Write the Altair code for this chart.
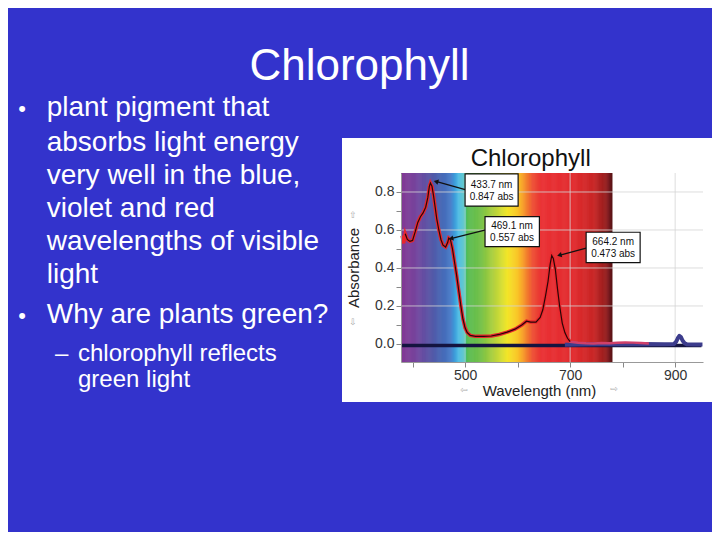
import altair as alt
import pandas as pd

FONT = "Liberation Sans"
W, H = 302, 189

# ---------------- data ----------------
wl_curve = [380, 383, 386, 390, 395, 400, 405, 410, 415, 420, 425, 429, 432, 434, 437,
            440, 443, 446, 450, 454, 458, 463, 467, 469, 472, 476, 480, 484, 488, 492,
            496, 500, 504, 510, 520, 535, 550, 565, 580, 595, 608, 617, 625, 635, 643,
            648, 653, 658, 662, 665, 668, 672, 676, 680, 685, 690, 695, 700]
abs_curve = [0.57, 0.53, 0.58, 0.55, 0.54, 0.545, 0.59, 0.64, 0.67, 0.69, 0.72, 0.77, 0.83, 0.847, 0.83,
             0.78, 0.72, 0.66, 0.60, 0.55, 0.52, 0.51, 0.535, 0.557, 0.55, 0.50, 0.43, 0.36, 0.28, 0.20,
             0.13, 0.085, 0.06, 0.045, 0.04, 0.04, 0.042, 0.05, 0.062, 0.078, 0.10, 0.12, 0.115, 0.115, 0.14,
             0.18, 0.25, 0.33, 0.42, 0.465, 0.45, 0.39, 0.29, 0.20, 0.11, 0.06, 0.03, 0.012]

wl_tail = [700, 715, 730, 745, 760, 775, 790, 805, 820, 835, 850]
abs_tail = [0.012, 0.006, 0.004, 0.003, 0.005, 0.004, 0.006, 0.008, 0.007, 0.005, 0.002]

wl_base = [380, 500, 700, 900, 950]
abs_base = [-0.008, -0.008, -0.008, -0.008, -0.008]

wl_blank = [690, 720, 760, 800, 840, 880, 898, 902, 905, 908, 911, 914, 918, 922, 935, 952]
abs_blank = [-0.004, -0.003, -0.002, -0.001, 0.0, -0.002, 0.0, 0.012, 0.03, 0.042, 0.036, 0.018, 0.004,
             -0.002, -0.003, -0.003]

# spectrum colour stops (nm -> colour)
spec_stops = [380, 405, 435, 455, 472, 487, 497, 503, 530, 557, 580, 600, 615, 628, 645, 705, 745, 768, 780]
spec_colors = ["#7a2e8e", "#6d3896", "#4a4ca0", "#3a5eb0", "#3d72c4", "#48b8e2", "#5cc4c8", "#4cb84a",
               "#6cbc3c", "#b4d030", "#f2e41c", "#f8c01c", "#f28020", "#ec4428", "#e82428", "#e01f22",
               "#c41818", "#8e1010", "#4a0606"]

x_ticks = [400, 500, 600, 700, 800, 900]
y_ticks = [0.0, 0.1, 0.2, 0.3, 0.4, 0.5, 0.6, 0.7, 0.8]
grid_x = [500, 700, 900]
grid_y = [0.2, 0.4, 0.6, 0.8]

# annotations
ann_line1 = ["433.7 nm", "469.1 nm", "664.2 nm"]
ann_line2 = ["0.847 abs", "0.557 abs", "0.473 abs"]
ann_x1 = [500, 538, 730.5]
ann_x2 = [601, 641.5, 833.3]
ann_y1 = [0.895, 0.670, 0.588]
ann_y2 = [0.726, 0.512, 0.428]
ann_cx = [550.5, 589.5, 781.9]
ann_b1 = [0.819, 0.605, 0.521]
ann_b2 = [0.758, 0.542, 0.459]
arr_tx = [501.9, 539.4, 730.5]
arr_ty = [0.811, 0.600, 0.504]
arr_hx = [446.1, 474.7, 681.0]
arr_hy = [0.854, 0.556, 0.468]
arr_ang = [286, 256, 256]

slide_title = "Chlorophyll"
bullet_lines = ["plant pigment that", "absorbs light energy", "very well in the blue,",
                "violet and red", "wavelengths of visible", "light", "Why are plants green?"]
bullet_base = [-57, -22.5, 11, 44, 77, 110, 150]
bullet_dots = [-64.5, 143]
sub_lines = ["chlorophyll reflects", "green light"]
sub_base = [188, 214]

# ---------------- scales / axes ----------------
xs = alt.Scale(domain=[378, 953], nice=False, zero=False)
ys = alt.Scale(domain=[-0.095, 0.9], nice=False, zero=False)
xax = alt.Axis(values=x_ticks, format="d", labelExpr="datum.value % 200 == 100 ? datum.label : ''",
               grid=False, title=None, labelFont=FONT, labelFontSize=14, labelColor="#333",
               tickColor="#888", tickSize=5, domainColor="#999", labelPadding=1, zindex=1)
yax = alt.Axis(values=y_ticks, format=".1f", labelExpr="round(datum.value*10) % 2 == 0 ? datum.label : ''",
               grid=False, title=None, labelFont=FONT, labelFontSize=14, labelColor="#333",
               tickColor="#888", tickSize=5, domainColor="#999", labelPadding=2, zindex=1)


def X(f):
    return alt.X(f, type="quantitative", scale=xs, axis=xax)


def Y(f):
    return alt.Y(f, type="quantitative", scale=ys, axis=yax)


layers = []

# white box behind chart
layers.append(alt.Chart(pd.DataFrame({"a": [0]})).mark_rect(color="white").encode(
    x=alt.value(-59), x2=alt.value(311), y=alt.value(-35), y2=alt.value(229)))

# spectrum
spec_wl = list(range(378, 780))
spec_df = pd.DataFrame({"wl": spec_wl, "wl2": [w + 1.6 for w in spec_wl]})
layers.append(alt.Chart(spec_df).mark_rect(strokeWidth=0).encode(
    x=X("wl"), x2=alt.X2("wl2"), y=alt.value(0), y2=alt.value(H),
    color=alt.Color("wl:Q", scale=alt.Scale(domain=spec_stops, range=spec_colors), legend=None)))

# grid
layers.append(alt.Chart(pd.DataFrame({"gx": grid_x})).mark_rule(color="#d4d4d4", strokeWidth=1, opacity=0.8)
              .encode(x=X("gx")))
layers.append(alt.Chart(pd.DataFrame({"gy": grid_y})).mark_rule(color="#d4d4d4", strokeWidth=1, opacity=0.8)
              .encode(y=Y("gy")))

# traces
layers.append(alt.Chart(pd.DataFrame({"wl": wl_base, "a": abs_base})).mark_line(color="#141440", strokeWidth=3.5)
              .encode(x=X("wl"), y=Y("a")))
layers.append(alt.Chart(pd.DataFrame({"wl": wl_blank, "a": abs_blank}))
              .mark_line(color="#3c3c8c", strokeWidth=4, strokeJoin="round")
              .encode(x=X("wl"), y=Y("a")))
layers.append(alt.Chart(pd.DataFrame({"wl": wl_tail, "a": abs_tail}))
              .mark_line(color="#d0406a", strokeWidth=2.5).encode(x=X("wl"), y=Y("a")))
layers.append(alt.Chart(pd.DataFrame({"wl": wl_curve, "a": abs_curve}))
              .mark_line(color="#e8262c", strokeWidth=3.5).encode(x=X("wl"), y=Y("a")))
layers.append(alt.Chart(pd.DataFrame({"wl": wl_curve[2:], "a": abs_curve[2:]}))
              .mark_line(color="#2a0606", strokeWidth=1.2).encode(x=X("wl"), y=Y("a")))

# annotations
ann_df = pd.DataFrame({"x1": ann_x1, "x2": ann_x2, "y1": ann_y1, "y2": ann_y2, "cx": ann_cx,
                       "b1": ann_b1, "b2": ann_b2, "l1": ann_line1, "l2": ann_line2})
arr_df = pd.DataFrame({"tx": arr_tx, "ty": arr_ty, "hx": arr_hx, "hy": arr_hy, "ang": arr_ang})
layers.append(alt.Chart(arr_df).mark_rule(color="#111", strokeWidth=1.3).encode(
    x=X("tx"), x2=alt.X2("hx"), y=Y("ty"), y2=alt.Y2("hy")))
layers.append(alt.Chart(arr_df).mark_point(shape="triangle", filled=True, size=28, color="#111", opacity=1)
              .encode(x=X("hx"), y=Y("hy"), angle=alt.Angle("ang:Q", scale=None)))
layers.append(alt.Chart(ann_df).mark_rect(fill="white", stroke="#111", strokeWidth=1.2).encode(
    x=X("x1"), x2=alt.X2("x2"), y=Y("y1"), y2=alt.Y2("y2")))
layers.append(alt.Chart(ann_df).mark_text(font=FONT, fontSize=10, color="#111", baseline="alphabetic")
              .encode(x=X("cx"), y=Y("b1"), text="l1:N"))
layers.append(alt.Chart(ann_df).mark_text(font=FONT, fontSize=10, color="#111", baseline="alphabetic")
              .encode(x=X("cx"), y=Y("b2"), text="l2:N"))

one = pd.DataFrame({"a": [0]})


def txt(s, x, y, size, color, align="left", baseline="alphabetic", angle=0, font=FONT):
    kw = dict(font=font, fontSize=size, color=color, align=align, baseline=baseline)
    if angle:
        kw["angle"] = angle
    return alt.Chart(one).mark_text(**kw).encode(x=alt.value(x), y=alt.value(y), text=alt.value(s))


# chart title & axis titles
layers.append(txt("Chlorophyll", 129.7, -7.3, 24, "#111", align="center"))
layers.append(txt("Absorbance", -47, 95, 15, "#222", align="center", baseline="middle", angle=270))
layers.append(txt("Wavelength (nm)", 138.5, 223, 15, "#222", align="center"))
layers.append(txt("⇧", -48, 42, 9, "#aaa", align="center", baseline="middle", font="DejaVu Sans"))
layers.append(txt("⇩", -48, 149, 9, "#aaa", align="center", baseline="middle", font="DejaVu Sans"))
layers.append(txt("⇦", 63, 217, 9, "#aaa", align="center", baseline="middle", font="DejaVu Sans"))
layers.append(txt("⇨", 213, 216, 9, "#aaa", align="center", baseline="middle", font="DejaVu Sans"))

# slide text
layers.append(txt(slide_title, -41.5, -93, 44, "white", align="center"))
for line, b in zip(bullet_lines, bullet_base):
    layers.append(txt(line, -354.3, b, 28, "white"))
for b in bullet_dots:
    layers.append(txt("•", -379, b, 22, "white", align="center", baseline="middle"))
layers.append(txt("–", -346, sub_base[0], 24, "white"))
for line, b in zip(sub_lines, sub_base):
    layers.append(txt(line, -323, b, 24, "white"))

chart = alt.layer(*layers).properties(
    width=W, height=H,
    padding={"left": 393, "top": 165, "right": 9, "bottom": 170},
    autosize=alt.AutoSizeParams(type="none"),
    background="#3333CC",
).configure_view(stroke=None)

chart.save("out.html", embed_options={"renderer": "svg", "actions": False})
